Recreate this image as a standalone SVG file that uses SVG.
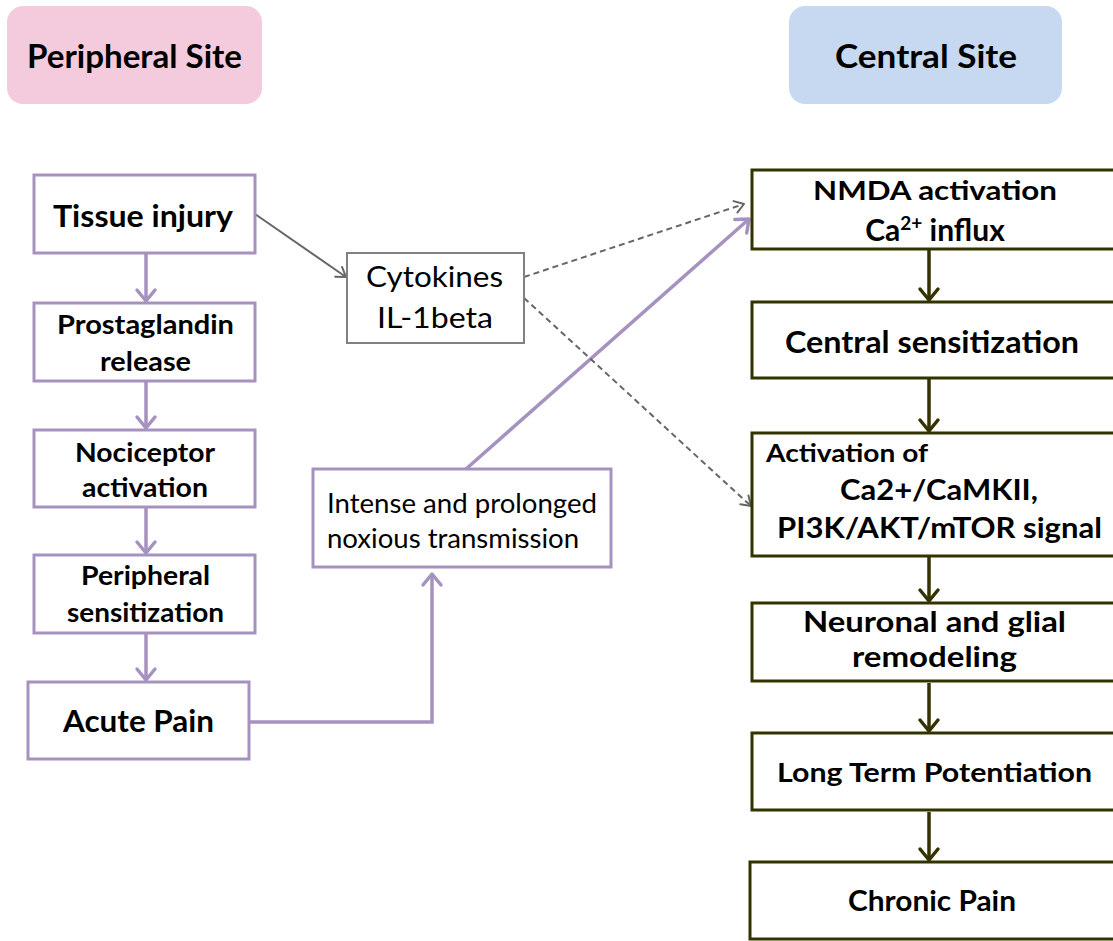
<svg xmlns="http://www.w3.org/2000/svg" width="1113" height="941" viewBox="0 0 1113 941">
<style>
.b{font-family:Lato,"Open Sans","Liberation Sans",sans-serif;font-weight:bold;fill:#000}
.r{font-family:Lato,"Open Sans","Liberation Sans",sans-serif;font-weight:normal;fill:#000}
.pbox{fill:#fff;stroke:#a692bf;stroke-width:3}
.dbox{fill:#fff;stroke:#333300;stroke-width:3}
.gbox{fill:#fff;stroke:#808080;stroke-width:2}
.pl{fill:none;stroke:#a692bf;stroke-width:3.5}
.dl{fill:none;stroke:#333300;stroke-width:3.5}
.gl{fill:none;stroke:#666;stroke-width:2}
.gd{fill:none;stroke:#666;stroke-width:2;stroke-dasharray:6,4}
</style>
<defs>
<marker id="ap" markerUnits="userSpaceOnUse" markerWidth="24" markerHeight="24" viewBox="-12 -12 14 24" refX="0" refY="0" orient="auto" overflow="visible"><path d="M-11,-9 L0,0 L-11,9" fill="none" stroke="#a692bf" stroke-width="3.5" stroke-linecap="round" stroke-linejoin="round"/></marker>
<marker id="ad" markerUnits="userSpaceOnUse" markerWidth="24" markerHeight="24" viewBox="-12 -12 14 24" refX="0" refY="0" orient="auto" overflow="visible"><path d="M-11,-9 L0,0 L-11,9" fill="none" stroke="#333300" stroke-width="3.5" stroke-linecap="round" stroke-linejoin="round"/></marker>
<marker id="ag" markerUnits="userSpaceOnUse" markerWidth="20" markerHeight="20" viewBox="-10 -10 12 20" refX="0" refY="0" orient="auto" overflow="visible"><path d="M-9,-6 L0,0 L-9,6" fill="none" stroke="#666" stroke-width="2" stroke-linecap="round" stroke-linejoin="round"/></marker>
</defs>
<rect width="1113" height="941" fill="#fff"/>

<g id="header-peripheral">
<rect x="7" y="6" width="255" height="98" rx="16" fill="#f4cbdd"/>
<text class="b" x="134.5" y="68" font-size="32" text-anchor="middle" textLength="215" lengthAdjust="spacingAndGlyphs">Peripheral Site</text>
</g>
<g id="header-central">
<rect x="789" y="6" width="273" height="98" rx="16" fill="#c6d9f0"/>
<text class="b" x="926" y="68" font-size="32" text-anchor="middle" textLength="182" lengthAdjust="spacingAndGlyphs">Central Site</text>
</g>

<g id="connectors">
<line class="pl" x1="146" y1="253" x2="146" y2="301" marker-end="url(#ap)"/>
<line class="pl" x1="146" y1="381" x2="146" y2="428" marker-end="url(#ap)"/>
<line class="pl" x1="146" y1="507" x2="146" y2="553" marker-end="url(#ap)"/>
<line class="pl" x1="146" y1="633" x2="146" y2="680" marker-end="url(#ap)"/>
<polyline class="pl" points="249,722 432,722 432,574" marker-end="url(#ap)"/>
<line class="pl" x1="466" y1="469" x2="749" y2="219" marker-end="url(#ap)"/>
<line class="gl" x1="255" y1="214" x2="346" y2="277" marker-end="url(#ag)"/>
<line class="gd" x1="524" y1="277" x2="744" y2="204" marker-end="url(#ag)"/>
<line class="gd" x1="524" y1="298" x2="751" y2="506" marker-end="url(#ag)"/>
<line class="dl" x1="929" y1="249" x2="929" y2="300" marker-end="url(#ad)"/>
<line class="dl" x1="929" y1="378" x2="929" y2="431" marker-end="url(#ad)"/>
<line class="dl" x1="929" y1="556" x2="929" y2="601" marker-end="url(#ad)"/>
<line class="dl" x1="929" y1="683" x2="929" y2="731" marker-end="url(#ad)"/>
<line class="dl" x1="929" y1="812" x2="929" y2="860" marker-end="url(#ad)"/>
</g>

<g id="tissue-injury">
<rect class="pbox" x="34" y="175" width="221" height="78"/>
<text class="b" x="143" y="227" font-size="30" text-anchor="middle" textLength="180" lengthAdjust="spacingAndGlyphs">Tissue injury</text>
</g>
<g id="prostaglandin">
<rect class="pbox" x="34" y="303" width="221" height="78"/>
<text class="b" x="145.5" y="334" font-size="26" text-anchor="middle" textLength="177" lengthAdjust="spacingAndGlyphs">Prostaglandin</text>
<text class="b" x="145.5" y="371" font-size="26" text-anchor="middle" textLength="91" lengthAdjust="spacingAndGlyphs">release</text>
</g>
<g id="nociceptor">
<rect class="pbox" x="34" y="430" width="221" height="77"/>
<text class="b" x="145" y="462" font-size="26" text-anchor="middle" textLength="140" lengthAdjust="spacingAndGlyphs">Nociceptor</text>
<text class="b" x="145" y="497" font-size="26" text-anchor="middle" textLength="126" lengthAdjust="spacingAndGlyphs">activation</text>
</g>
<g id="peripheral-sensitization">
<rect class="pbox" x="34" y="555" width="221" height="78"/>
<text class="b" x="145.5" y="585" font-size="26" text-anchor="middle" textLength="129" lengthAdjust="spacingAndGlyphs">Peripheral</text>
<text class="b" x="145.5" y="622" font-size="26" text-anchor="middle" textLength="157" lengthAdjust="spacingAndGlyphs">sensitization</text>
</g>
<g id="acute-pain">
<rect class="pbox" x="28" y="682" width="221" height="77"/>
<text class="b" x="138.5" y="732" font-size="30" text-anchor="middle" textLength="151" lengthAdjust="spacingAndGlyphs">Acute Pain</text>
</g>
<g id="cytokines">
<rect class="gbox" x="347" y="253" width="177" height="90"/>
<text class="r" x="434.5" y="287" font-size="28" text-anchor="middle" textLength="137" lengthAdjust="spacingAndGlyphs">Cytokines</text>
<text class="r" x="435" y="328" font-size="28" text-anchor="middle" textLength="116" lengthAdjust="spacingAndGlyphs">IL-1beta</text>
</g>
<g id="intense">
<rect class="pbox" x="313" y="469" width="298" height="98"/>
<text class="r" x="327" y="513" font-size="26" textLength="270" lengthAdjust="spacingAndGlyphs">Intense and prolonged</text>
<text class="r" x="327" y="548" font-size="26" textLength="252" lengthAdjust="spacingAndGlyphs">noxious transmission</text>
</g>

<g id="nmda">
<rect class="dbox" x="752" y="170" width="380" height="79"/>
<text class="b" x="935" y="200" font-size="27" text-anchor="middle" textLength="244" lengthAdjust="spacingAndGlyphs">NMDA activation</text>
<text class="b" x="935" y="241" font-size="30" text-anchor="middle">Ca<tspan font-size="19" dy="-11">2+</tspan><tspan dy="11"> influx</tspan></text>
</g>
<g id="central-sensitization">
<rect class="dbox" x="752" y="302" width="380" height="76"/>
<text class="b" x="932" y="353" font-size="30" text-anchor="middle" textLength="294" lengthAdjust="spacingAndGlyphs">Central sensitization</text>
</g>
<g id="activation">
<rect class="dbox" x="752" y="433" width="380" height="123"/>
<text class="b" x="766" y="462" font-size="24" textLength="162" lengthAdjust="spacingAndGlyphs">Activation of</text>
<text class="b" x="939" y="500" font-size="28" text-anchor="middle" textLength="198" lengthAdjust="spacingAndGlyphs">Ca2+/CaMKII,</text>
<text class="b" x="939.5" y="538" font-size="28" text-anchor="middle" textLength="325" lengthAdjust="spacingAndGlyphs">PI3K/AKT/mTOR signal</text>
</g>
<g id="remodeling">
<rect class="dbox" x="752" y="603" width="380" height="78"/>
<text class="b" x="934.5" y="632" font-size="28" text-anchor="middle" textLength="263" lengthAdjust="spacingAndGlyphs">Neuronal and glial</text>
<text class="b" x="934.5" y="667" font-size="28" text-anchor="middle" textLength="165" lengthAdjust="spacingAndGlyphs">remodeling</text>
</g>
<g id="ltp">
<rect class="dbox" x="752" y="733" width="380" height="77"/>
<text class="b" x="934.5" y="782" font-size="26" text-anchor="middle" textLength="315" lengthAdjust="spacingAndGlyphs">Long Term Potentiation</text>
</g>
<g id="chronic-pain">
<rect class="dbox" x="750" y="862" width="380" height="77"/>
<text class="b" x="932" y="911" font-size="29" text-anchor="middle" textLength="168" lengthAdjust="spacingAndGlyphs">Chronic Pain</text>
</g>
</svg>
